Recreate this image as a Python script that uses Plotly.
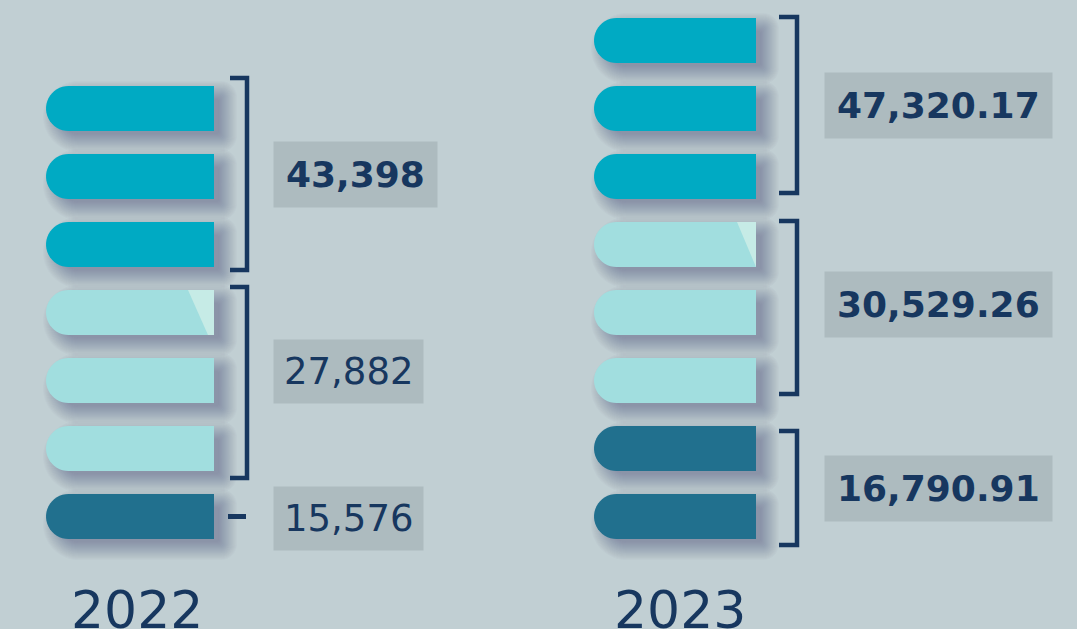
import numpy as np
import plotly.graph_objects as go

# ---- data -------------------------------------------------------------
years = ["2022", "2023"]
# bars per group, listed top group first (cyan, light, dark)
group_counts_2022 = [3, 3, 1]
group_counts_2023 = [3, 3, 2]
group_values_2022 = [43398, 27882, 15576]
group_values_2023 = [47320.17, 30529.26, 16790.91]
value_decimals = [0, 2]
bold_2022 = [True, False, False]
bold_2023 = [True, True, True]

# ---- styling ----------------------------------------------------------
BG = "#C1CFD3"
GROUP_COLORS = ["#00AAC3", "#A1DEDF", "#21708E"]
SHEEN = "#C6EBE6"
NAVY = "#17375F"
LABEL_BG = "#ADBBBF"
FONT = "DejaVu Sans"

W, H = 1077, 629
PX_PER_SLOT = 68.0          # vertical pitch of one bar slot, in pixels
HALF_H = 22.5               # half bar thickness, px
Y_BOTTOM_CENTER = 516.5     # pixel row of slot 0 centre
Y_RANGE = [(Y_BOTTOM_CENTER - H) / PX_PER_SLOT, Y_BOTTOM_CENTER / PX_PER_SLOT]

# per-group layout tweaks (pixels): bracket overhang above/below the group,
# and vertical nudge of the value label (positive = down)
columns = [
    dict(year=years[0], counts=group_counts_2022, values=group_values_2022,
         bold=bold_2022, dec=value_decimals[0],
         bar_x0=46, bar_x1=214, br_x0=230, br_x1=247, label_x=273, year_x=137,
         sheen=(26, 6),
         br_pad=[(8, 3), (3, 7), (0, 0)], label_nudge=[-2, -9.5, 1.5]),
    dict(year=years[1], counts=group_counts_2023, values=group_values_2023,
         bold=bold_2023, dec=value_decimals[1],
         bar_x0=594, bar_x1=756, br_x0=779, br_x1=797, label_x=824, year_x=680,
         sheen=(19, 0),
         br_pad=[(1, -6), (1, -9), (-5, 6)], label_nudge=[-3.5, -8, 6]),
]


def to_v(yc, d_px):
    """slot-coordinate of a point d_px pixels below slot centre yc"""
    return yc - d_px / PX_PER_SLOT


def pill_path(x0, x1, yc, half_h, r_right=0.0, n=24):
    pts = []
    cx = x0 + half_h
    for t in np.linspace(-np.pi / 2, np.pi / 2, n):
        pts.append((cx - half_h * np.cos(t), half_h * np.sin(t)))
    if r_right > 0:
        c = x1 - r_right
        for s in np.linspace(0, np.pi / 2, 8):
            pts.append((c + r_right * np.sin(s), (half_h - r_right) + r_right * np.cos(s)))
        for s in np.linspace(np.pi / 2, np.pi, 8):
            pts.append((c + r_right * np.sin(s), -(half_h - r_right) + r_right * np.cos(s)))
    else:
        pts.append((x1, half_h))
        pts.append((x1, -half_h))
    return "M " + " L ".join(f"{x:.2f},{to_v(yc, d):.4f}" for x, d in pts) + " Z"


shadow_shapes, bar_shapes, line_shapes = [], [], []
annotations = []

# drop shadow: offset, number of stacked layers, blur reach (px)
SH_DX, SH_DY, SH_LAYERS, SH_SPREAD = 10, 8, 20, 19

for col in columns:
    counts = col["counts"]
    total = sum(counts)
    slot = total - 1
    for g, (cnt, val, bold) in enumerate(zip(counts, col["values"], col["bold"])):
        slots = list(range(slot, slot - cnt, -1))
        slot -= cnt
        for i, s in enumerate(slots):
            for k in range(SH_LAYERS):
                e = SH_SPREAD * (1 - k / SH_LAYERS) - 6
                shadow_shapes.append(dict(
                    type="path",
                    path=pill_path(col["bar_x0"] + SH_DX - e, col["bar_x1"] + SH_DX + e,
                                   to_v(s, SH_DY), HALF_H + e, r_right=max(e, 0) + 3),
                    fillcolor="rgba(62,76,80,0.021)", line=dict(width=0),
                    xref="x", yref="y", layer="below"))
            bar_shapes.append(dict(
                type="path", path=pill_path(col["bar_x0"], col["bar_x1"], s, HALF_H),
                fillcolor=GROUP_COLORS[g], line=dict(width=0),
                xref="x", yref="y", layer="below"))
            if g == 1 and i == 0:
                top_in, bot_in = col["sheen"]
                x1 = col["bar_x1"]
                path = (f"M {x1 - top_in},{to_v(s, -HALF_H):.4f} L {x1},{to_v(s, -HALF_H):.4f} "
                        f"L {x1},{to_v(s, HALF_H):.4f} L {x1 - bot_in},{to_v(s, HALF_H):.4f} Z")
                bar_shapes.append(dict(type="path", path=path, fillcolor=SHEEN,
                                       line=dict(width=0), xref="x", yref="y", layer="below"))
        top_v, bot_v = slots[0], slots[-1]
        mid_v = (top_v + bot_v) / 2
        pad_top, pad_bot = col["br_pad"][g]
        if cnt > 1:
            y_top = to_v(top_v, -HALF_H - pad_top)
            y_bot = to_v(bot_v, HALF_H + pad_bot)
            line_shapes.append(dict(
                type="path",
                path=f"M {col['br_x0']},{y_top:.4f} H {col['br_x1']} V {y_bot:.4f} H {col['br_x0']}",
                line=dict(color=NAVY, width=4.5), xref="x", yref="y"))
        else:
            line_shapes.append(dict(
                type="line", x0=col["br_x0"] - 2, x1=col["br_x1"] - 1, y0=mid_v, y1=mid_v,
                line=dict(color=NAVY, width=5), xref="x", yref="y"))
        text = f"{val:,.{col['dec']}f}"
        annotations.append(dict(
            x=col["label_x"], y=to_v(mid_v, col["label_nudge"][g]), xref="x", yref="y",
            xanchor="left", yanchor="middle",
            text=text, showarrow=False, bgcolor=LABEL_BG,
            borderpad=12 if bold else 10,
            font=dict(family=FONT, size=36 if bold else 37, color=NAVY,
                      weight="bold" if bold else "normal")))
    annotations.append(dict(
        x=col["year_x"], y=to_v(0, 61), xref="x", yref="y", xanchor="center", yanchor="top",
        text=col["year"], showarrow=False,
        font=dict(family=FONT, size=52, color=NAVY)))

fig = go.Figure(go.Scatter(x=[0], y=[0], mode="markers", marker=dict(opacity=0),
                           hoverinfo="skip", showlegend=False))
fig.update_layout(
    width=W, height=H, autosize=False,
    margin=dict(l=0, r=0, t=0, b=0),
    paper_bgcolor=BG, plot_bgcolor=BG,
    xaxis=dict(range=[0, W], visible=False, fixedrange=True),
    yaxis=dict(range=Y_RANGE, visible=False, fixedrange=True),
    shapes=shadow_shapes + bar_shapes + line_shapes,
    annotations=annotations,
    showlegend=False,
)
fig.write_html("out.html")
